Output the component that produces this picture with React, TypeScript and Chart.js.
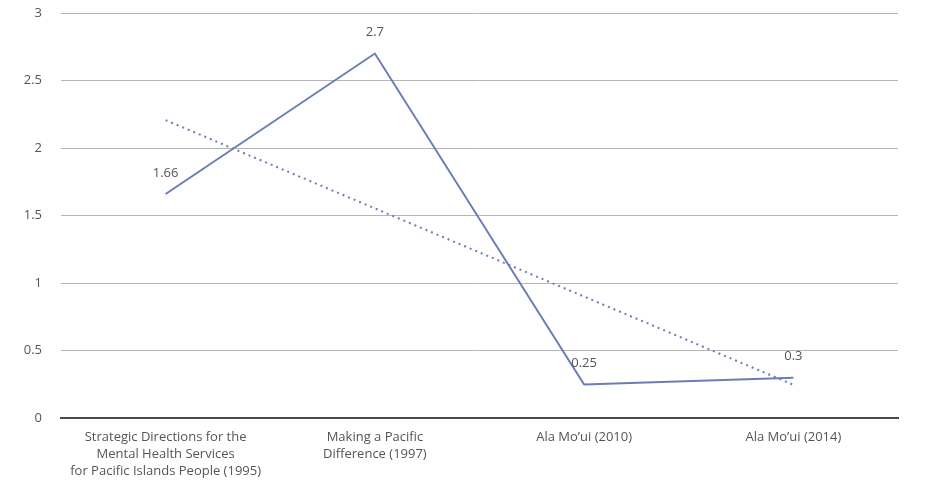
import React, { useEffect, useRef } from "react";
import { Chart, registerables } from "chart.js";

Chart.register(...registerables);

const categories: string[][] = [
  ["Strategic Directions for the", "Mental Health Services", "for Pacific Islands People (1995)"],
  ["Making a Pacific", "Difference (1997)"],
  ["Ala Mo’ui (2010)"],
  ["Ala Mo’ui (2014)"],
];
const scores: number[] = [1.66, 2.7, 0.25, 0.3];
const trend: number[] = [2.207, 1.554, 0.901, 0.248];
const scoreLabels: string[] = ["1.66", "2.7", "0.25", "0.3"];
const yTicks: number[] = [0, 0.5, 1, 1.5, 2, 2.5, 3];

const LINE = "#6b7db4";
const TEXT = "#555555";
const FONT = "'Open Sans', sans-serif";

const valueLabels = {
  id: "valueLabels",
  afterDatasetsDraw(chart: any) {
    const meta = chart.getDatasetMeta(0);
    const ctx = chart.ctx;
    ctx.save();
    ctx.font = `13px ${FONT}`;
    ctx.fillStyle = TEXT;
    ctx.textAlign = "center";
    ctx.textBaseline = "middle";
    meta.data.forEach((pt: any, i: number) => {
      ctx.fillText(scoreLabels[i], pt.x, pt.y - 21);
    });
    ctx.restore();
  },
};

export default function App() {
  const ref = useRef<HTMLCanvasElement | null>(null);

  useEffect(() => {
    if (!ref.current) return;
    const chart = new Chart(ref.current, {
      type: "line",
      data: {
        labels: categories,
        datasets: [
          {
            data: scores,
            borderColor: LINE,
            borderWidth: 2,
            pointRadius: 0,
            tension: 0,
          },
          {
            data: trend,
            borderColor: LINE,
            borderWidth: 2,
            borderDash: [2, 4],
            pointRadius: 0,
            tension: 0,
          },
        ],
      },
      options: {
        responsive: false,
        animation: false,
        layout: { padding: { top: 5, right: 24, left: 0, bottom: 0 } },
        plugins: {
          legend: { display: false },
          tooltip: { enabled: false },
        },
        scales: {
          x: {
            offset: true,
            afterFit: (s: any) => {
              s.paddingLeft = 0;
              s.paddingRight = 0;
              s.paddingTop = 0;
              s.paddingBottom = 0;
              s.height = s.height - 8;
            },
            grid: { display: false, drawTicks: false },
            border: { display: true, color: "#4a4a4a", width: 2 },
            ticks: {
              color: TEXT,
              font: { family: FONT, size: 13, lineHeight: 1.3 },
              padding: 11,
              maxRotation: 0,
              autoSkip: false,
            },
          },
          y: {
            min: 0,
            max: 3,
            afterBuildTicks: (s: any) => {
              s.ticks = yTicks.map((v) => ({ value: v }));
            },
            afterFit: (s: any) => {
              s.width = 53;
              s.paddingTop = 0;
              s.paddingBottom = 0;
            },
            grid: { color: "#b5b5b5", lineWidth: 1, drawTicks: false },
            border: { display: false },
            ticks: {
              color: TEXT,
              font: { family: FONT, size: 13 },
              padding: 19,
              callback: (v: any) => String(v),
            },
          },
        },
      },
      plugins: [valueLabels],
    });
    return () => chart.destroy();
  }, []);

  return (
    <div style={{ width: 914, height: 475 }}>
      <canvas ref={ref} width={914} height={475} />
    </div>
  );
}
